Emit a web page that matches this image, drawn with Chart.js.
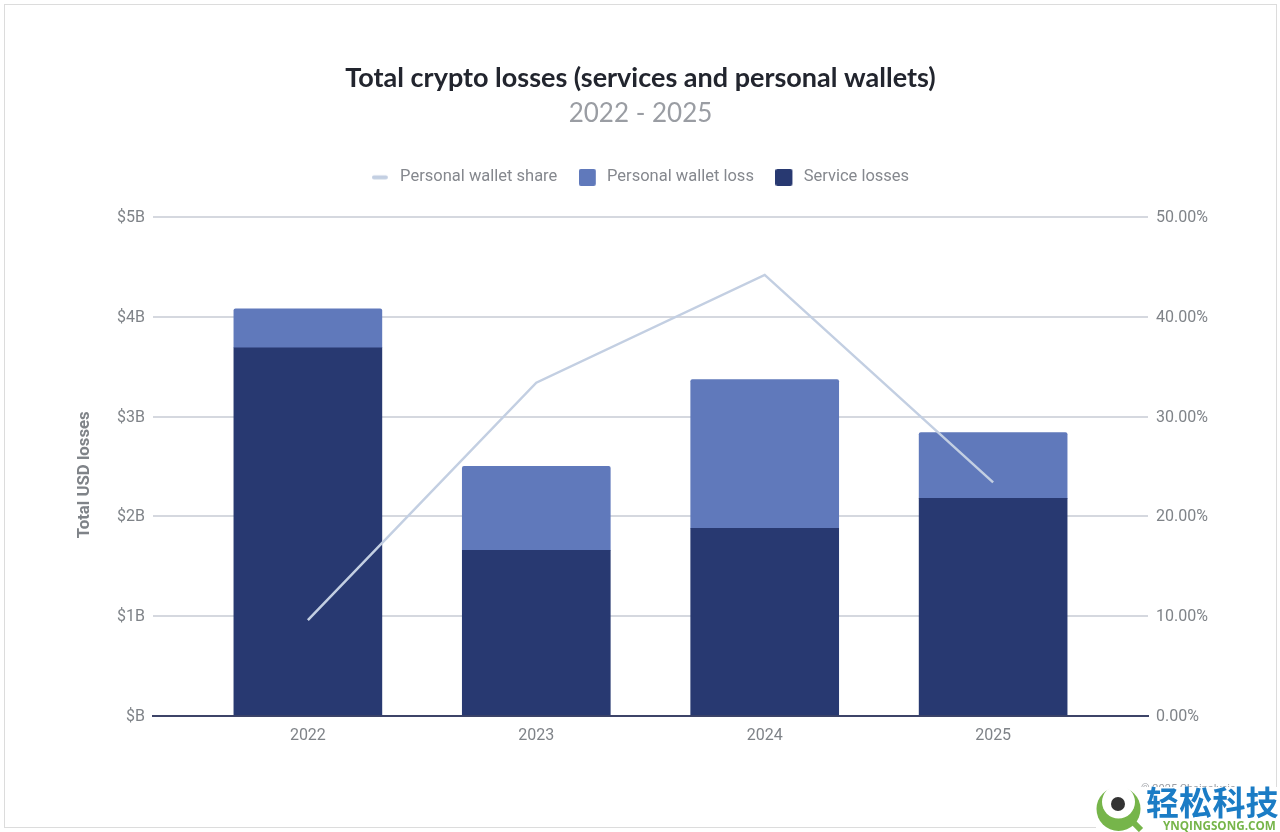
<!DOCTYPE html>
<html><head><meta charset="utf-8">
<style>
html,body{margin:0;padding:0;background:#fff;width:1280px;height:832px;overflow:hidden}
#wrap{position:relative;width:1280px;height:832px}
#frame{position:absolute;left:4px;top:4px;width:1271px;height:822px;border:1px solid #dcdcdc;pointer-events:none}
canvas{position:absolute;left:0;top:0}
#credit{position:absolute;left:1141px;top:782px;font:11px Roboto;color:#9a9da3;white-space:nowrap}
#wm{position:absolute;left:1096px;top:787px;width:184px;height:45px;background:#fff}
#wm svg{position:absolute;left:0;top:0}
#wmcn{position:absolute;left:50px;top:-6px;font:700 33px/40px "Noto Sans CJK SC";color:#1b7cc5;white-space:nowrap;letter-spacing:.2px}
#wmen{position:absolute;left:67px;top:31px;font:700 11.7px/14px "Open Sans";color:#76b54a;white-space:nowrap}
</style></head><body>
<div id="wrap">
<canvas id="c" width="1280" height="832"></canvas>
<div id="frame"></div>
<div id="credit">© 2025 Chainalysis</div>
<div id="wm">
<svg width="50" height="45" viewBox="0 0 50 45"><circle cx="22.5" cy="22" r="22" fill="#76b54a"/><circle cx="22.5" cy="15" r="16.5" fill="#fff"/><path d="M36 34l9 9" stroke="#76b54a" stroke-width="6"/><circle cx="22" cy="17" r="7" fill="#333"/></svg>
<div id="wmcn">轻松科技</div><div id="wmen">YNQINGSONG.COM</div>
</div>
</div>
<script src="https://cdn.jsdelivr.net/npm/chart.js@4/dist/chart.umd.min.js"></script>
<script>
const years = [2022, 2023, 2024, 2025];
const serviceLosses = [3.69, 1.66, 1.88, 2.18];
const walletLosses = [0.39, 0.84, 1.49, 0.66];
const walletShare = [9.6, 33.4, 44.2, 23.4];
const usdTicks = ['$B', '$1B', '$2B', '$3B', '$4B', '$5B'];
const shareTicks = ['0.00%', '10.00%', '20.00%', '30.00%', '40.00%', '50.00%'];
const toPoints = vals => vals.map((v, i) => ({x: years[i], y: v}));
const tickGray = '#7f8388';

function swatch(color, w, h) {
  const cv = document.createElement('canvas');
  cv.width = 20; cv.height = 17;
  const g = cv.getContext('2d');
  g.fillStyle = color;
  g.beginPath();
  g.roundRect(0, (17 - h) / 2, w, h, 2);
  g.fill();
  return cv;
}
const legendIcons = [swatch('#c3cfe2', 16, 4), swatch('#6079bb', 17, 17), swatch('#283971', 17, 17)];

const legendSpacer = {
  id: 'legendSpacer',
  beforeInit(chart) {
    const fit = chart.legend.fit;
    chart.legend.fit = function () { fit.call(this); this.height += 21.5; };
  }
};

new Chart(document.getElementById('c'), {
  plugins:[legendSpacer],
  data: { datasets: [
    {type:'line', label:'Personal wallet share', data:toPoints(walletShare), yAxisID:'y1', order:0,
     borderColor:'#c3cfe2', backgroundColor:'#c3cfe2', borderWidth:2.5, pointRadius:0, tension:0, borderCapStyle:'butt'},
    {type:'bar', label:'Personal wallet loss', data:toPoints(walletLosses), yAxisID:'y', order:2, stack:'s',
     backgroundColor:'#6079bb', barThickness:148, borderRadius:{topLeft:2,topRight:2,bottomLeft:0,bottomRight:0}, borderSkipped:false},
    {type:'bar', label:'Service losses', data:toPoints(serviceLosses), yAxisID:'y', order:1, stack:'s',
     backgroundColor:'#283971', barThickness:148}
  ]},
  options: {
    responsive:false, animation:false, devicePixelRatio:1,
    layout:{padding:{left:73,right:72,top:62,bottom:75}},
    plugins:{
      tooltip:{enabled:false},
      title:{display:true, text:'Total crypto losses (services and personal wallets)', color:'#22252e',
        font:{family:'Lato',size:27,weight:'700'}, padding:{top:0,bottom:4}},
      subtitle:{display:true, text:'2022 - 2025', color:'#9a9da3',
        font:{family:'Lato',size:26,weight:'400'}, padding:{top:0,bottom:18}},
      legend:{position:'top', labels:{
        color:'#85888e', font:{family:'Roboto',size:16.5}, usePointStyle:true, pointStyleWidth:20, boxHeight:17, padding:21.5,
        generateLabels(chart){
          return chart.data.datasets.map((d,i)=>({text:d.label, fillStyle:d.backgroundColor, strokeStyle:d.backgroundColor,
            lineWidth:0, pointStyle:legendIcons[i], fontColor:'#85888e', datasetIndex:i, hidden:false}));
        }}}
    },
    scales:{
      x:{type:'linear', min:2021.322, max:2025.678, offset:false,
        afterBuildTicks(s){ s.ticks = years.map(v=>({value:v})); },
        grid:{display:false, drawTicks:false},
        border:{display:true,color:'#3d4468',width:2},
        ticks:{callback:v=>String(v), color:tickGray, font:{family:'Roboto',size:16}, padding:11, autoSkip:false, maxRotation:0}},
      y:{type:'linear', position:'left', stacked:true, min:0, max:5,
        afterFit(s){ s.width = 80; },
        ticks:{stepSize:1, color:tickGray, font:{family:'Roboto',size:16}, padding:8, labelOffset:1, callback:v=>usdTicks[v]},
        grid:{color:'#d5d8df', lineWidth:2, drawTicks:false},
        border:{display:false},
        title:{display:true, text:'Total USD losses    ', color:'#7f8388', font:{family:'Roboto',size:16.8,weight:'700'}, padding:{top:2,bottom:0}}},
      y1:{type:'linear', position:'right', min:0, max:50,
        afterFit(s){ s.width = 60; },
        ticks:{stepSize:10, color:tickGray, font:{family:'Roboto',size:16}, padding:8, labelOffset:1, callback:v=>shareTicks[v/10]},
        grid:{display:false, drawTicks:false},
        border:{display:false}}
    }
  }
});
</script>
</body></html>
